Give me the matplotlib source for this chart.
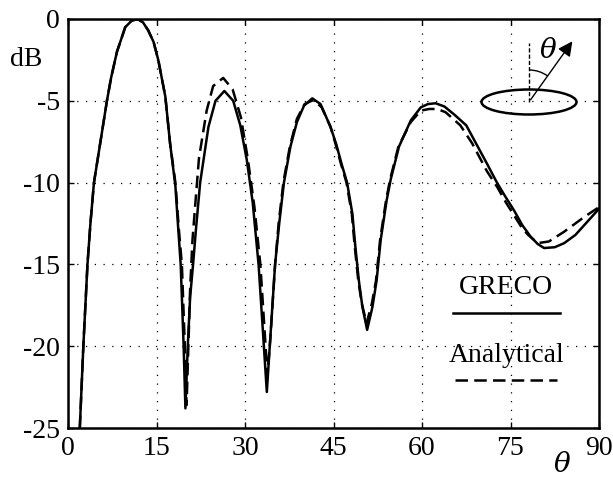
import matplotlib
matplotlib.use("Agg")
import matplotlib.pyplot as plt
from matplotlib.patches import Ellipse, Arc, FancyArrowPatch

# ---------------- data ----------------
theta_greco = [2.0, 2.6, 3.3, 3.8, 4.4, 5.5, 6.6, 7.3, 8.3, 9.7, 10.8, 11.8,
               12.7, 13.6, 14.5, 15.3, 16.5, 17.3, 18.2, 18.7, 19.1, 19.6, 19.9,
               20.3, 20.7, 21.2, 21.7, 22.4, 23.8, 25.0, 26.5, 28.0, 29.2, 30.3,
               31.3, 32.3, 33.2, 33.7, 34.2, 35.1, 35.8, 36.6, 37.7, 38.8, 40.0,
               41.4, 42.8, 44.5, 45.5, 46.4, 47.3, 48.2, 48.7, 49.3, 49.9, 50.7, 51.6,
               52.3, 53.0, 54.0, 54.7, 56.1, 58.1, 59.8, 61.0, 62.3, 63.8, 65.5,
               67.5, 69.0, 71.1, 72.7, 74.2, 75.6, 77.0, 78.4, 79.6, 80.7, 82.5,
               84.1, 86.0, 87.5, 90.0]
db_greco = [-25.0, -20.0, -15.0, -12.5, -10.0, -7.5, -5.0, -3.6, -2.0, -0.5, -0.1, 0.0,
            -0.2, -0.7, -1.4, -2.5, -4.75, -7.6, -10.2, -12.9, -15.0, -20.0, -23.8,
            -20.0, -17.0, -15.0, -12.8, -10.0, -6.6, -5.0, -4.4, -5.0, -6.5, -8.6,
            -11.2, -15.0, -20.0, -22.8, -20.0, -15.0, -12.5, -10.0, -7.8, -6.3, -5.3,
            -4.85, -5.2, -6.6, -7.7, -8.9, -10.0, -11.9, -13.9, -16.0, -17.6, -19.0, -17.6,
            -16.0, -13.5, -11.1, -9.8, -7.8, -6.2, -5.4, -5.2, -5.15, -5.35, -5.85,
            -6.5, -7.5, -8.9, -10.0, -10.9, -11.7, -12.6, -13.3, -13.75, -14.0, -13.95,
            -13.7, -13.2, -12.6, -11.6]

theta_analytical = [2.0, 2.6, 3.3, 3.8, 4.4, 5.5, 6.6, 7.3, 8.3, 9.7, 10.8, 11.8,
                    12.7, 13.6, 14.5, 15.3, 16.5, 17.3, 18.2, 18.8, 19.3, 19.8, 20.1,
                    20.4, 20.7, 21.1, 21.6, 22.2, 23.5, 24.6, 26.3, 27.9, 29.3, 30.5,
                    31.6, 32.6, 33.4, 33.8, 34.3, 35.1, 35.7, 36.5, 37.6, 38.8, 40.1,
                    41.6, 43.0, 44.5, 45.4, 46.3, 47.2, 48.1, 48.6, 49.2, 49.8, 50.6, 51.5,
                    52.2, 52.9, 53.9, 54.6, 56.0, 58.1, 59.8, 61.2, 62.6, 64.0, 66.5,
                    68.5, 71.0, 72.8, 74.2, 75.6, 77.0, 78.0, 79.6, 81.5, 84.1, 87.5, 90.0]
db_analytical = [-25.0, -20.0, -15.0, -12.5, -10.0, -7.5, -5.0, -3.6, -2.0, -0.5, -0.1, 0.0,
                 -0.2, -0.7, -1.4, -2.5, -4.75, -7.6, -10.0, -12.9, -15.0, -20.0, -23.6,
                 -20.0, -16.5, -13.5, -11.2, -8.5, -5.6, -4.1, -3.6, -4.3, -6.0, -8.6,
                 -11.5, -15.0, -19.5, -21.8, -19.5, -15.0, -12.5, -10.0, -7.8, -6.1, -5.2,
                 -4.95, -5.4, -6.6, -7.7, -8.9, -10.0, -11.9, -13.9, -16.0, -17.4, -18.6, -17.4,
                 -16.0, -13.5, -11.1, -9.8, -7.8, -6.3, -5.6, -5.5, -5.5, -5.7, -6.5,
                 -7.6, -9.3, -10.3, -11.2, -12.0, -12.8, -13.2, -13.7, -13.6, -13.0, -12.1,
                 -11.5]

xticks = [0, 15, 30, 45, 60, 75, 90]
yticks = [0, -5, -10, -15, -20, -25]
legend_labels = ["GRECO", "Analytical"]

# ---------------- figure ----------------
W, H = 613, 480
fig = plt.figure(figsize=(W / 100, H / 100), dpi=100)
ax = fig.add_axes([68 / W, 1 - 428 / H, (599 - 68) / W, (428 - 19) / H])

FONT = "Liberation Serif"
FS = 20

ax.plot(theta_greco, db_greco, color="black", lw=1.8, solid_joinstyle="round")
ax.plot(theta_analytical, db_analytical, color="black", lw=1.8,
        linestyle=(0, (5, 2.5)))

ax.set_xlim(0, 90)
ax.set_ylim(-25, 0)
ax.set_xticks(xticks)
ax.set_yticks(yticks)
ax.set_xticklabels([str(v) for v in xticks], fontfamily=FONT, fontsize=FS)
ax.set_yticklabels([str(v) for v in yticks], fontfamily=FONT, fontsize=FS)
ax.tick_params(direction="in", length=4, width=1.0, top=True, right=True)
ax.tick_params(axis="x", pad=6)
ax.tick_params(axis="y", pad=6)
ax.grid(True, color="black", lw=0.9, linestyle=(0, (1, 6)))
for s in ax.spines.values():
    s.set_linewidth(1.8)

fig.text(26 / W, 1 - 60 / H, "dB", fontfamily=FONT, fontsize=FS,
         ha="center", va="center")
fig.text(562 / W, 1 - 465 / H, "θ", fontfamily="DejaVu Serif", fontstyle="italic",
         fontsize=FS, ha="center", va="center")

# legend drawn as text + sample lines (axes-fraction coordinates)
def fx(px):
    return (px - 68) / (599 - 68)

def fy(py):
    return 1 - (py - 19) / (428 - 19)

ax.text(fx(506), fy(287), legend_labels[0], transform=ax.transAxes,
        fontfamily=FONT, fontsize=FS, ha="center", va="center")
ax.plot([fx(453), fx(560)], [fy(313), fy(313)], transform=ax.transAxes,
        color="black", lw=1.8)
ax.text(fx(507), fy(355), legend_labels[1], transform=ax.transAxes,
        fontfamily=FONT, fontsize=FS, ha="center", va="center")
ax.plot([fx(455), fx(557)], [fy(380), fy(380)], transform=ax.transAxes,
        color="black", lw=1.8, linestyle=(0, (5, 2.5)))

# inset sketch (pixel coordinates, y downward)
ins = fig.add_axes([470 / W, 1 - 125 / H, 130 / W, 100 / H])
ins.set_xlim(470, 600)
ins.set_ylim(125, 25)
ins.set_aspect("equal")
ins.axis("off")
cx, cy = 529, 102
ins.add_patch(Ellipse((cx, cy), 95, 25, fill=False, lw=1.8, color="black"))
ins.plot([cx, cx], [cy, 43], color="black", lw=1.0, linestyle=(0, (3, 1.5)))
ins.add_patch(FancyArrowPatch((cx, cy), (574, 39), arrowstyle="-|>",
                              mutation_scale=22, lw=1.0, color="black"))
ins.add_patch(Arc((cx, cy), 64, 64, angle=0, theta1=-90, theta2=-55,
                  lw=1.0, color="black"))
ins.text(548, 50, "θ", fontfamily="DejaVu Serif", fontstyle="italic",
         fontsize=FS, ha="center", va="center")

fig.savefig("out.png", dpi=100)
